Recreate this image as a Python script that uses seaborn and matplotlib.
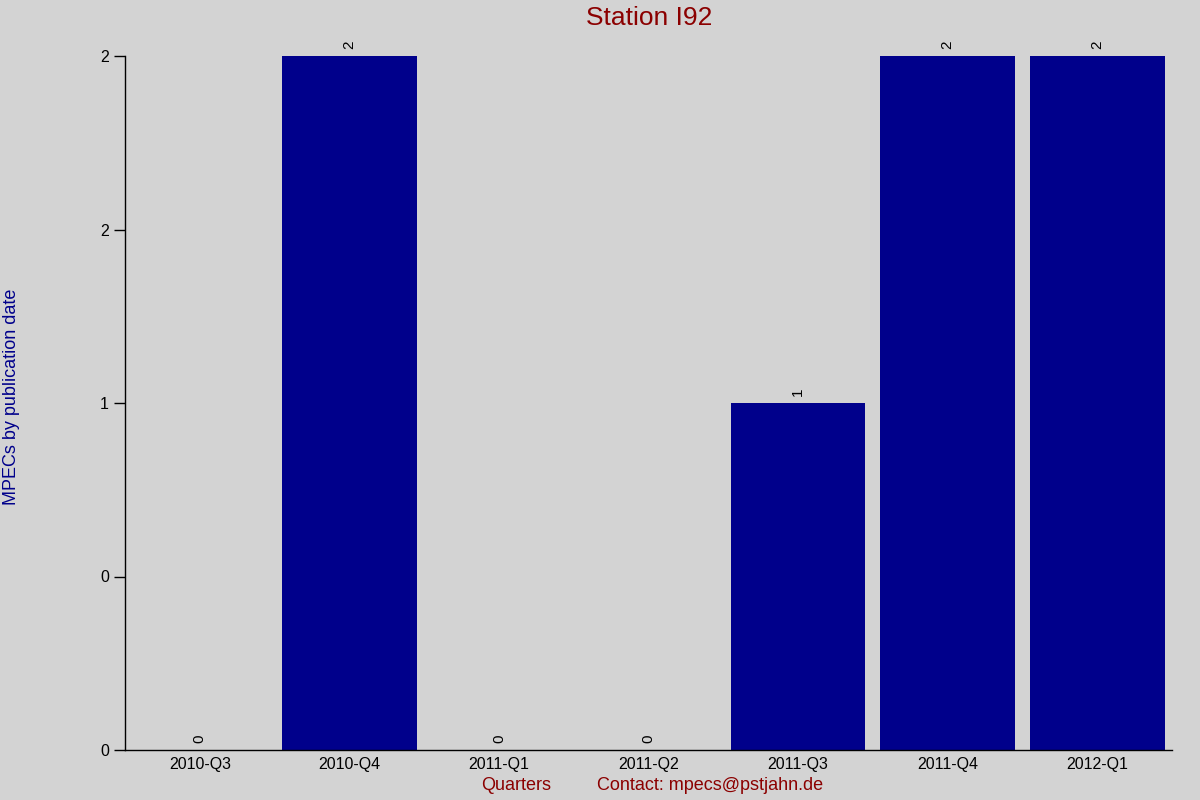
import seaborn as sns
import matplotlib.pyplot as plt
from matplotlib.ticker import FormatStrFormatter

quarters = ["2010-Q3", "2010-Q4", "2011-Q1", "2011-Q2", "2011-Q3", "2011-Q4", "2012-Q1"]
mpecs = [0, 2, 0, 0, 1, 2, 2]

bg = "#d3d3d3"
sns.set_theme(style="ticks", rc={"figure.facecolor": bg, "axes.facecolor": bg})
plt.rcParams["font.family"] = ["Liberation Sans", "DejaVu Sans"]

fig = plt.figure(figsize=(12, 8), dpi=100)
ax = fig.add_axes([0.1042, 0.0625, 0.8725, 0.8675])

sns.barplot(x=quarters, y=mpecs, color="#00008b", saturation=1, width=0.9,
            linewidth=0, ax=ax)
ax.bar_label(ax.containers[0], labels=[str(v) for v in mpecs], rotation=90,
             padding=5, fontsize=11, color="black")

ax.set_xlim(-0.5, len(quarters) - 0.5)
ax.set_ylim(0, 2)
ax.set_yticks([0, 0.5, 1, 1.5, 2])
ax.yaxis.set_major_formatter(FormatStrFormatter("%.0f"))
ax.tick_params(axis="both", labelsize=11.5, colors="black", length=8, width=1)
ax.tick_params(axis="x", length=0, pad=5)
for side in ["top", "right"]:
    ax.spines[side].set_visible(False)
for side in ["left", "bottom"]:
    ax.spines[side].set_color("black")
    ax.spines[side].set_linewidth(1)
ax.set_xlabel("")
ax.set_ylabel("")

fig.text(0.541, 0.977, "Station I92", ha="center", va="center", fontsize=19, color="#8b0000")
fig.text(0.43, 0.018, "Quarters", ha="center", va="center", fontsize=13, color="#8b0000")
fig.text(0.592, 0.018, "Contact: mpecs@pstjahn.de", ha="center", va="center", fontsize=13, color="#8b0000")
fig.text(0.0095, 0.504, "MPECs by publication date", rotation=90, ha="center", va="center",
         fontsize=13, color="#00008b")

fig.savefig("out.png", dpi=100, facecolor=bg)
